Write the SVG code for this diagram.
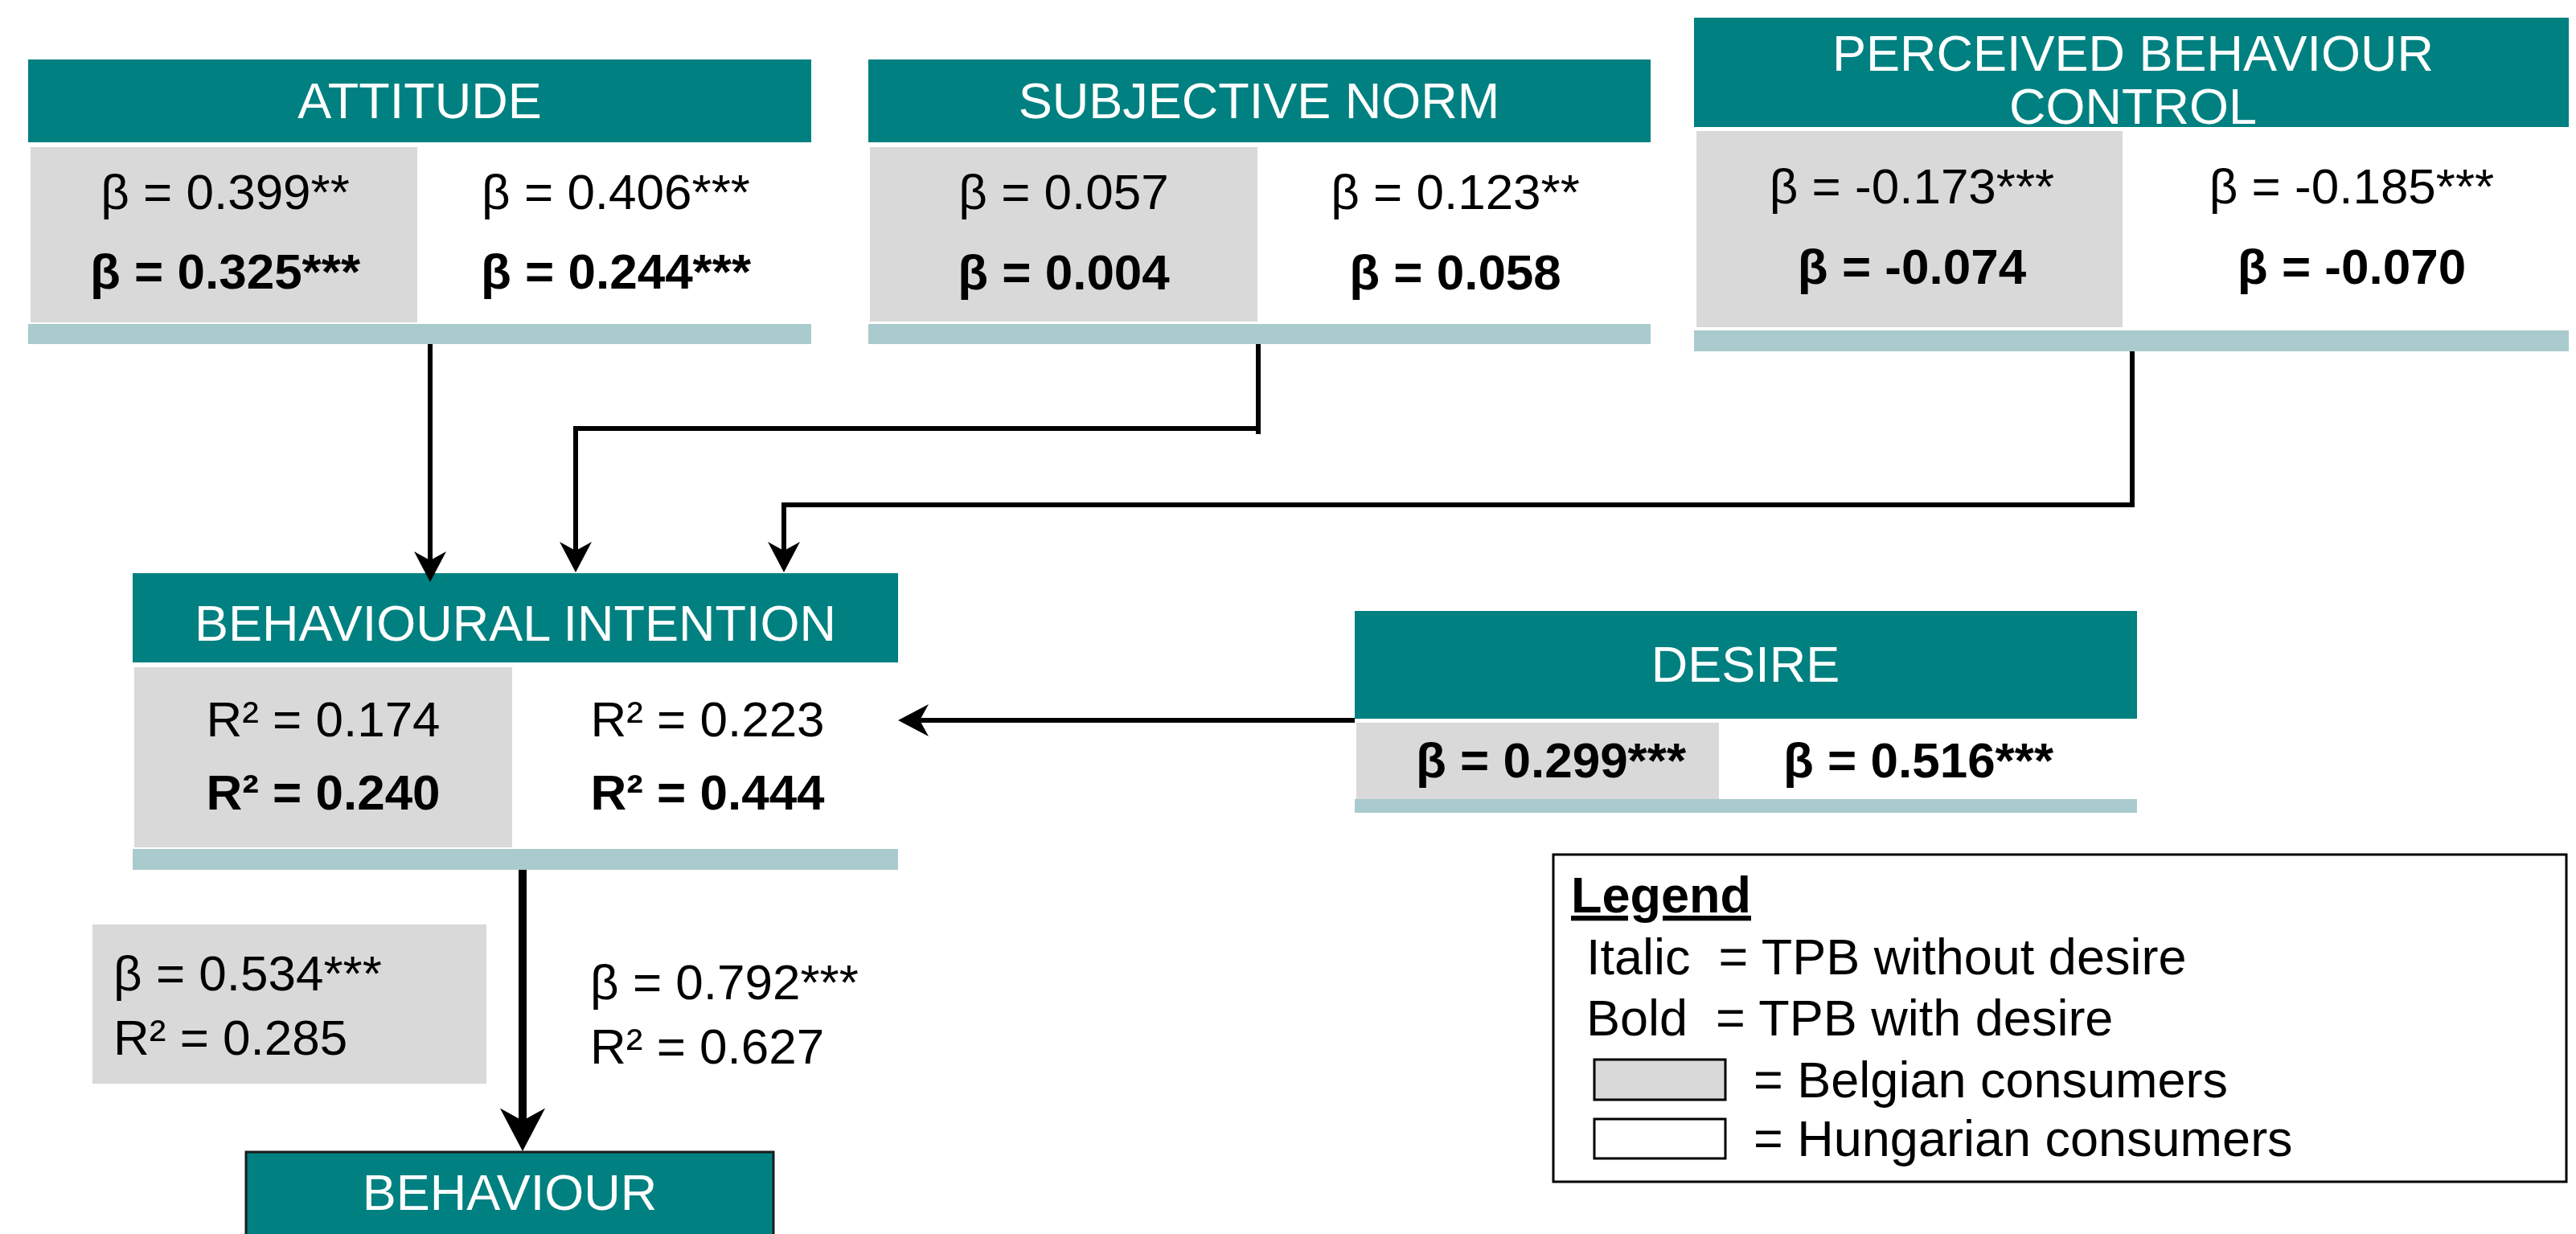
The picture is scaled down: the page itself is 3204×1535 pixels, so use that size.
<svg xmlns="http://www.w3.org/2000/svg" width="3204" height="1535" viewBox="0 0 3204 1535">
<style>
text{font-family:"Liberation Sans",Arial,sans-serif;fill:#000}
.hd{fill:#008080}
.bar{fill:#AACBCD}
.gr{fill:#D9D9D9}
.tt{fill:#fff;font-size:63px;text-anchor:middle}
.v{font-size:62px;text-anchor:middle}
.b{font-weight:bold}
.lv{font-size:62px}
.lg{font-size:63px;white-space:pre}
.cn{fill:none;stroke:#000;stroke-width:6}
</style>
<defs>
<marker id="ah" markerUnits="userSpaceOnUse" viewBox="-40 -22 42 44" refX="-27" refY="0" markerWidth="42" markerHeight="44" orient="auto">
<path d="M0,0 L-38,-20 L-27,0 L-38,20 Z" fill="#000"/>
</marker>
<marker id="ahb" markerUnits="userSpaceOnUse" viewBox="-40 -22 42 44" refX="-27" refY="0" markerWidth="59" markerHeight="62" orient="auto">
<path d="M0,0 L-38,-20 L-27,0 L-38,20 Z" fill="#000"/>
</marker>
</defs>

<g id="attitude">
<rect class="hd" x="35" y="74" width="974" height="103"/>
<text class="tt" x="522" y="147">ATTITUDE</text>
<rect class="gr" x="38" y="183" width="481" height="218"/>
<rect class="bar" x="35" y="403" width="974" height="25"/>
<text class="v" x="280" y="260">β = 0.399**</text>
<text class="v b" x="280" y="359">β = 0.325***</text>
<text class="v" x="766" y="260">β = 0.406***</text>
<text class="v b" x="766" y="359">β = 0.244***</text>
</g>

<g id="subjective-norm">
<rect class="hd" x="1080" y="74" width="973" height="103"/>
<text class="tt" x="1566" y="147">SUBJECTIVE NORM</text>
<rect class="gr" x="1082" y="183" width="482" height="217"/>
<rect class="bar" x="1080" y="403" width="973" height="25"/>
<text class="v" x="1323" y="260">β = 0.057</text>
<text class="v b" x="1323" y="360">β = 0.004</text>
<text class="v" x="1810" y="260">β = 0.123**</text>
<text class="v b" x="1810" y="360">β = 0.058</text>
</g>

<g id="perceived-behaviour-control">
<rect class="hd" x="2107" y="22" width="1088" height="136"/>
<text class="tt" x="2653" y="88">PERCEIVED BEHAVIOUR</text>
<text class="tt" x="2653" y="154">CONTROL</text>
<rect class="gr" x="2110" y="163" width="530" height="244"/>
<rect class="bar" x="2107" y="411" width="1088" height="26"/>
<text class="v" x="2378" y="253">β = -0.173***</text>
<text class="v b" x="2378" y="353">β = -0.074</text>
<text class="v" x="2925" y="253">β = -0.185***</text>
<text class="v b" x="2925" y="353">β = -0.070</text>
</g>

<g id="behavioural-intention">
<rect class="hd" x="165" y="713" width="952" height="111"/>
<text class="tt" x="641" y="797">BEHAVIOURAL INTENTION</text>
<rect class="gr" x="167" y="830" width="470" height="224"/>
<rect class="bar" x="165" y="1056" width="952" height="26"/>
<text class="v" x="402" y="916">R² = 0.174</text>
<text class="v b" x="402" y="1007">R² = 0.240</text>
<text class="v" x="880" y="916">R² = 0.223</text>
<text class="v b" x="880" y="1007">R² = 0.444</text>
</g>

<g id="desire">
<rect class="hd" x="1685" y="760" width="973" height="134"/>
<text class="tt" x="2171" y="848">DESIRE</text>
<rect class="gr" x="1687" y="899" width="451" height="95"/>
<rect class="bar" x="1685" y="994" width="973" height="17"/>
<text class="v b" x="1929" y="967">β = 0.299***</text>
<text class="v b" x="2386" y="967">β = 0.516***</text>
</g>

<g id="path-coefficients">
<rect class="gr" x="115" y="1150" width="490" height="198"/>
<text class="lv" x="141" y="1232">β = 0.534***</text>
<text class="lv" x="141" y="1312">R² = 0.285</text>
<text class="lv" x="734" y="1243">β = 0.792***</text>
<text class="lv" x="734" y="1323">R² = 0.627</text>
</g>

<g id="behaviour">
<rect class="hd" x="306" y="1433" width="656" height="110" stroke="#1a1a1a" stroke-width="3"/>
<text class="tt" x="634" y="1505">BEHAVIOUR</text>
</g>

<g id="legend">
<rect x="1932" y="1063" width="1260" height="407" fill="#fff" stroke="#000" stroke-width="3"/>
<text class="lg b" x="1954" y="1135" style="text-decoration:underline">Legend</text>
<text class="lg" x="1973" y="1212">Italic  = TPB without desire</text>
<text class="lg" x="1973" y="1288">Bold  = TPB with desire</text>
<rect x="1983" y="1318" width="163" height="50" fill="#D9D9D9" stroke="#000" stroke-width="3"/>
<text class="lg" x="2181" y="1365">= Belgian consumers</text>
<rect x="1983" y="1392" width="163" height="49" fill="#fff" stroke="#000" stroke-width="3"/>
<text class="lg" x="2181" y="1438">= Hungarian consumers</text>
</g>

<g id="connectors">
<path class="cn" d="M535,428 V697" marker-end="url(#ah)"/>
<path class="cn" d="M1565,428 V540"/>
<path class="cn" d="M1568,533 H716 V685" marker-end="url(#ah)"/>
<path class="cn" d="M2652,437 V628 H975 V685" marker-end="url(#ah)"/>
<path class="cn" d="M1685,896 H1144" marker-end="url(#ah)"/>
<path class="cn" style="stroke-width:10" d="M650,1082 V1394" marker-end="url(#ahb)"/>
</g>
</svg>
